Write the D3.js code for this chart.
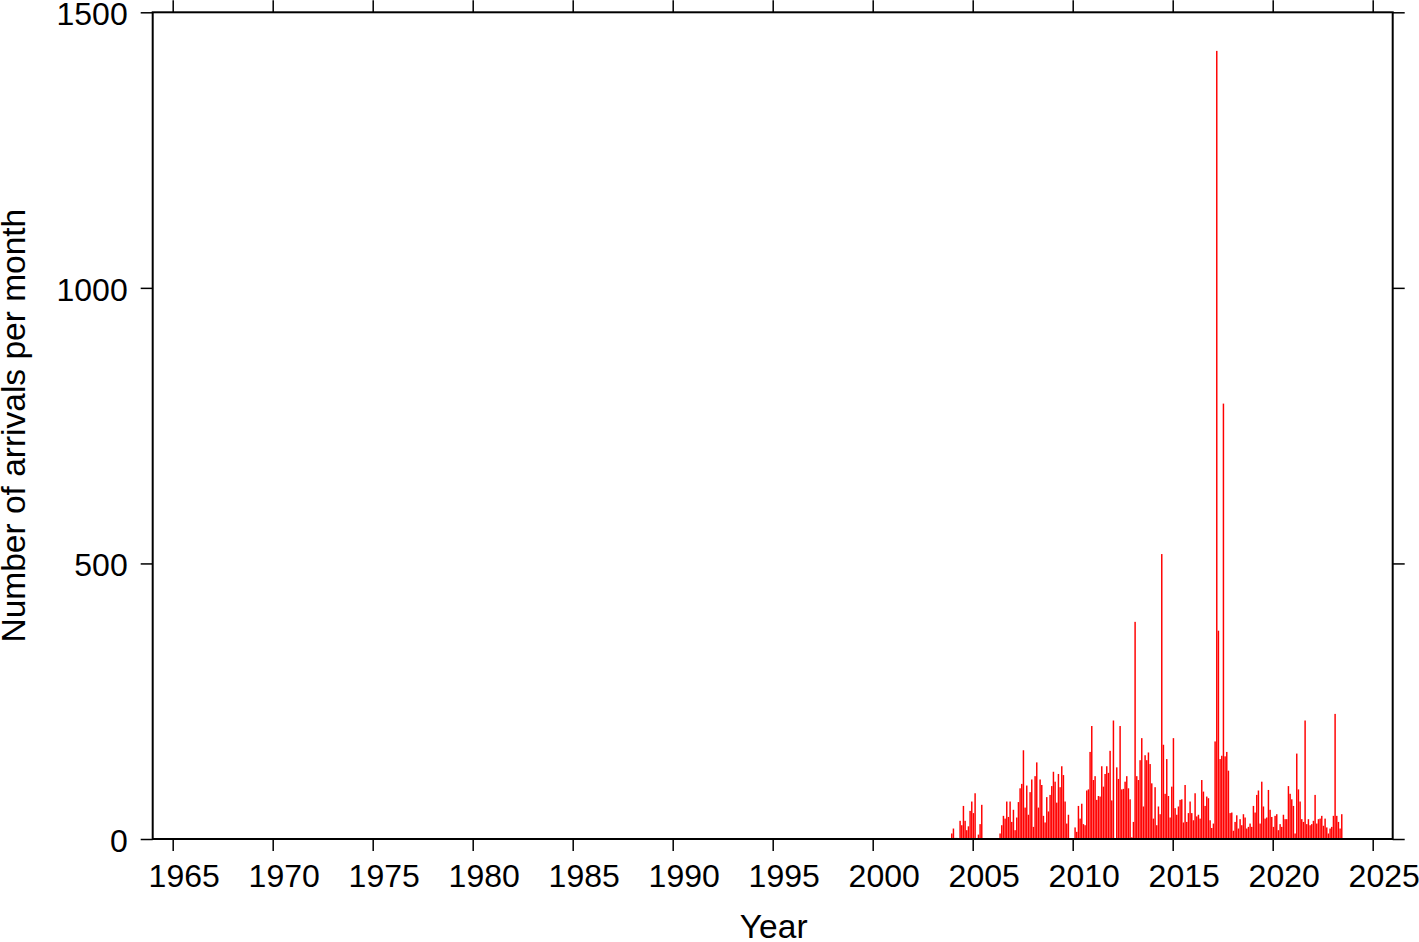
<!DOCTYPE html>
<html>
<head>
<meta charset="utf-8">
<script src="https://cdn.jsdelivr.net/npm/d3@7"></script>
<style>
  html, body { margin: 0; padding: 0; background: #fff; }
  svg { display: block; }
  text { font-family: "Liberation Sans", Arial, Helvetica, sans-serif; }
</style>
</head>
<body>
<svg id="chart" width="1419" height="942"></svg>
<script>
// ---- data ----
const startYear = 2003;
const startMonth = 11; // 0-based month index of first value (December 2003)
const monthlyArrivals = [
  10, 19, 2, 2, 0, 33, 25, 60, 33, 16, 23, 51, 68, 47, 83, 0, 8, 27, 62,
  0, 0, 0, 0, 0, 0, 0, 0, 0, 0,
  10, 25, 42, 37, 68, 40, 68, 31, 53, 16, 39, 67, 92, 100, 161, 57, 97, 44, 85, 108, 22, 114, 139, 57, 108, 98, 42,
  30, 76, 50, 80, 96, 122, 104, 66, 118, 94, 132, 116, 68, 28, 44, 0, 0, 0, 21, 13, 60, 37, 64, 27, 25, 88, 90, 158, 205, 107,
  114, 71, 78, 77, 132, 95, 118, 132, 120, 160, 70, 215, 0, 130, 109, 205, 90, 91, 104, 114, 92, 72, 3, 31, 394, 114, 107, 143, 183, 59,
  152, 143, 157, 136, 101, 37, 94, 25, 59, 45, 517, 171, 82, 145, 78, 39, 95, 183, 56, 44, 59, 71, 72, 30, 98, 31, 47, 68, 47, 34,
  83, 41, 44, 37, 107, 86, 60, 77, 74, 34, 20, 28, 177, 1430, 378, 145, 151, 790, 150, 158, 124, 47, 48, 15, 31, 43, 19, 36, 25, 45,
  39, 19, 22, 28, 22, 60, 48, 80, 88, 28, 104, 59, 37, 39, 89, 53, 40, 22, 42, 45, 16, 27, 22, 44, 36, 36, 96, 82, 72, 60,
  10, 155, 90, 68, 36, 31, 215, 27, 36, 25, 27, 33, 80, 28, 36, 37, 42, 24, 37, 21, 10, 19, 22, 42, 227, 42, 31, 19, 45
];
const xDomain = [1964, 2026];
const yDomain = [0, 1500];
const xTickValues = [1965, 1970, 1975, 1980, 1985, 1990, 1995, 2000, 2005, 2010, 2015, 2020, 2025];
const yTickValues = [0, 500, 1000, 1500];
const xLabel = "Year";
const yLabel = "Number of arrivals per month";

// ---- layout ----
const plot = { left: 152.7, right: 1392.7, top: 12.3, bottom: 839 };
const svg = d3.select("#chart");

const x = d3.scaleLinear().domain(xDomain).range([plot.left, plot.right]);
const y = d3.scaleLinear().domain(yDomain).range([plot.bottom, plot.top]);

const bars = monthlyArrivals.map((v, i) => {
  const t = startYear + (startMonth + i) / 12;
  return { t, v };
}).filter(d => d.v > 0);

svg.append("g")
  .selectAll("rect")
  .data(bars)
  .join("rect")
  .attr("x", d => x(d.t))
  .attr("width", d => Math.max(0.5, x(d.t + 1 / 12) - x(d.t) - 0.2))
  .attr("y", d => y(d.v))
  .attr("height", d => y(0) - y(d.v))
  .attr("fill", "#ff0000");

const fontSize = 32;
const titleSize = 33.5;

function styleAxis(g) {
  g.select(".domain").remove();
  g.selectAll(".tick line").attr("stroke", "#000").attr("stroke-width", 1.5);
  g.selectAll(".tick text").attr("fill", "#000").style("font-size", fontSize + "px");
}

// bottom
svg.append("g")
  .attr("transform", `translate(0,${plot.bottom})`)
  .call(d3.axisBottom(x).tickValues(xTickValues).tickSize(12).tickPadding(13).tickFormat(d3.format("d")))
  .call(styleAxis)
  .call(g => g.selectAll(".tick text").attr("dx", 11));
// top
svg.append("g")
  .attr("transform", `translate(0,${plot.top})`)
  .call(d3.axisTop(x).tickValues(xTickValues).tickSize(12).tickFormat(""))
  .call(styleAxis);
// left
svg.append("g")
  .attr("transform", `translate(${plot.left},0)`)
  .call(d3.axisLeft(y).tickValues(yTickValues).tickSize(12).tickPadding(13).tickFormat(d3.format("d")))
  .call(styleAxis)
  .call(g => g.selectAll(".tick text").attr("dy", "0.38em"));
// right
svg.append("g")
  .attr("transform", `translate(${plot.right},0)`)
  .call(d3.axisRight(y).tickValues(yTickValues).tickSize(12).tickFormat(""))
  .call(styleAxis);

// frame
svg.append("rect")
  .attr("x", plot.left).attr("y", plot.top)
  .attr("width", plot.right - plot.left).attr("height", plot.bottom - plot.top)
  .attr("fill", "none").attr("stroke", "#000").attr("stroke-width", 2);

// axis titles
svg.append("text")
  .attr("x", (plot.left + plot.right) / 2 + 1)
  .attr("y", 938)
  .attr("text-anchor", "middle")
  .style("font-size", titleSize + "px")
  .text(xLabel);

svg.append("text")
  .attr("transform", `translate(25,${(plot.top + plot.bottom) / 2}) rotate(-90)`)
  .attr("text-anchor", "middle")
  .style("font-size", titleSize + "px")
  .text(yLabel);
</script>
</body>
</html>
